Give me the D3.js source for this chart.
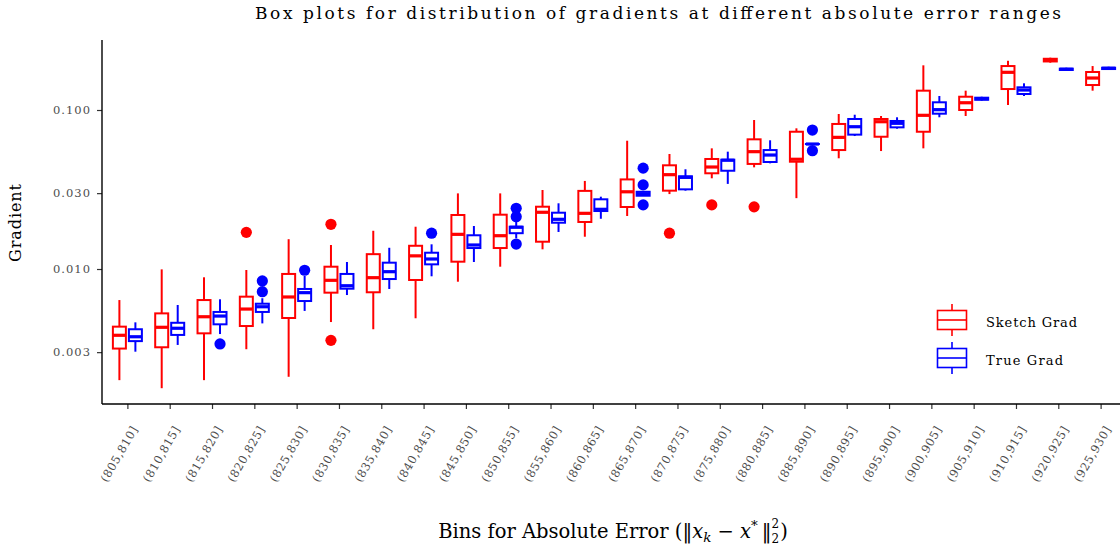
<!DOCTYPE html>
<html>
<head>
<meta charset="utf-8">
<script src="https://cdn.jsdelivr.net/npm/d3@7"></script>
<style>
  html, body { margin: 0; padding: 0; background: #fff; }
  svg { display: block; }
  text { font-family: "DejaVu Serif", "Liberation Serif", serif; }
</style>
</head>
<body>
<svg id="chart" width="1120" height="548"></svg>
<script>
// ---------------- data ----------------
const categories = ["(805,810]","(810,815]","(815,820]","(820,825]","(825,830]","(830,835]",
  "(835,840]","(840,845]","(845,850]","(850,855]","(855,860]","(860,865]","(865,870]",
  "(870,875]","(875,880]","(880,885]","(885,890]","(890,895]","(895,900]","(900,905]",
  "(905,910]","(910,915]","(920,925]","(925,930]"];

const yTickValues = [0.003, 0.01, 0.03, 0.1];
const yTickLabels = ["0.003", "0.010", "0.030", "0.100"];

const seriesNames = ["Sketch Grad", "True Grad"];

// Sketch Grad (red)
const sketchLow  = [0.00200,0.00178,0.00200,0.00313,0.00210,0.00464,0.00418,0.00490,0.00832,0.01034,0.0133,0.01596,0.02155,0.0296,0.0372,0.0436,0.0279,0.0497,0.0552,0.0574,0.0917,0.1075,0.1984,0.1323];
const sketchQ1   = [0.00316,0.00322,0.00394,0.00438,0.00492,0.00710,0.00714,0.00853,0.01112,0.01355,0.01485,0.01976,0.02455,0.0311,0.0400,0.0458,0.0473,0.0560,0.0679,0.0730,0.1000,0.1355,0.2020,0.1436];
const sketchMed  = [0.00383,0.00430,0.00501,0.00560,0.00667,0.00849,0.00882,0.0121,0.01652,0.0162,0.02274,0.0224,0.0306,0.0392,0.0438,0.0547,0.0490,0.0673,0.0844,0.0926,0.1111,0.1726,0.2063,0.1589];
const sketchQ3   = [0.00434,0.00526,0.00638,0.00670,0.00931,0.01034,0.0124,0.0140,0.02186,0.02196,0.02465,0.0310,0.0366,0.0449,0.0492,0.0654,0.0730,0.0817,0.0878,0.1323,0.1212,0.1890,0.2100,0.1734];
const sketchHigh = [0.00638,0.00995,0.00887,0.00986,0.0154,0.01416,0.0174,0.01845,0.0299,0.0299,0.0314,0.0358,0.0641,0.0529,0.0574,0.0865,0.0767,0.0944,0.0917,0.191,0.1323,0.204,0.2133,0.189];
const sketchOutliers = [[],[],[],[0.0170],[],[0.0191,0.00356],[],[],[],[],[],[],[],[0.0168],[0.0253],[0.0246],[],[],[],[],[],[],[],[]];

// True Grad (blue)
const trueLow  = [0.00302,0.00333,0.00390,0.00455,0.00545,0.00686,0.00749,0.00900,0.01107,0.0156,0.0171,0.0207,0.0288,0.0311,0.0343,0.0462,0.0611,0.0686,0.0763,0.0900,0.1144,0.1225,0.1759,0.1785];
const trueQ1   = [0.00352,0.00385,0.00449,0.00537,0.00629,0.00752,0.00865,0.0107,0.01355,0.0168,0.01955,0.02316,0.0289,0.0317,0.0415,0.0471,0.0611,0.0700,0.0778,0.0948,0.1160,0.1261,0.1785,0.1810];
const trueMed  = [0.00375,0.00424,0.00506,0.00579,0.00710,0.00785,0.00962,0.01156,0.01416,0.0183,0.02054,0.02374,0.02975,0.0377,0.0483,0.0521,0.0611,0.0785,0.0825,0.1005,0.1178,0.1336,0.1803,0.1829];
const trueQ3   = [0.00418,0.00459,0.00537,0.00605,0.00749,0.00931,0.01096,0.01266,0.0163,0.01845,0.0226,0.02744,0.0306,0.0383,0.0487,0.0560,0.0611,0.0878,0.0853,0.1118,0.1195,0.1389,0.1820,0.1845];
const trueHigh = [0.00462,0.00594,0.00645,0.00655,0.00904,0.01107,0.0136,0.0143,0.01864,0.01983,0.0259,0.0285,0.0307,0.0424,0.0547,0.0645,0.0611,0.0934,0.0900,0.1225,0.1212,0.1472,0.1845,0.1871];
const trueOutliers = [[],[],[0.00338],[0.00841,0.00720],[0.00982],[],[],[0.0168],[],[0.0241,0.02133,0.01436],[],[],[0.0431,0.0338,0.0253],[],[],[],[0.0748,0.0555],[],[],[],[],[],[],[]];

// ---------------- layout ----------------
const svg = d3.select("#chart");
const plotLeft = 102, plotRight = 1126, plotTop = 40, plotBottom = 404;

const x = d3.scalePoint().domain(categories).range([plotLeft, plotRight]).padding(0.6);
const y = d3.scaleLog().domain([0.001416, 0.2756]).range([plotBottom, plotTop]);

const colors = ["#FF0000", "#0000FF"];
const offsets = [-8, 8];
const boxW = 13;

const series = [
  {low: sketchLow, q1: sketchQ1, med: sketchMed, q3: sketchQ3, high: sketchHigh, out: sketchOutliers},
  {low: trueLow, q1: trueQ1, med: trueMed, q3: trueQ3, high: trueHigh, out: trueOutliers}
];

series.forEach((s, si) => {
  const g = svg.append("g");
  const col = colors[si];
  categories.forEach((c, i) => {
    const cx = x(c) + offsets[si];
    g.append("line").attr("x1", cx).attr("x2", cx).attr("y1", y(s.high[i])).attr("y2", y(s.q3[i]))
      .attr("stroke", col).attr("stroke-width", 2);
    g.append("line").attr("x1", cx).attr("x2", cx).attr("y1", y(s.q1[i])).attr("y2", y(s.low[i]))
      .attr("stroke", col).attr("stroke-width", 2);
    const yt = y(s.q3[i]), yb = y(s.q1[i]);
    g.append("rect").attr("x", cx - boxW / 2).attr("y", yt).attr("width", boxW).attr("height", Math.max(0.01, yb - yt))
      .attr("fill", "#fff").attr("stroke", col).attr("stroke-width", 2);
    g.append("line").attr("x1", cx - boxW / 2).attr("x2", cx + boxW / 2).attr("y1", y(s.med[i])).attr("y2", y(s.med[i]))
      .attr("stroke", col).attr("stroke-width", 3.2);
    s.out[i].forEach(v => {
      g.append("circle").attr("cx", cx).attr("cy", y(v)).attr("r", 5.6).attr("fill", col);
    });
  });
});

// ---------------- axes ----------------
const yAxis = d3.axisLeft(y).tickValues(yTickValues)
  .tickFormat((d, i) => yTickLabels[i]).tickSize(5).tickSizeOuter(0).tickPadding(7);
const gy = svg.append("g").attr("transform", `translate(${plotLeft},0)`).call(yAxis);
gy.select(".domain").remove();
gy.selectAll(".tick line").attr("stroke", "#333").attr("stroke-width", 1.2);
gy.selectAll(".tick text").attr("fill", "#4d4d4d").attr("font-size", 11.5)
  .attr("font-family", "DejaVu Serif").attr("textLength", 37).attr("lengthAdjust", "spacing");
svg.append("line").attr("x1", plotLeft).attr("x2", plotLeft).attr("y1", plotTop).attr("y2", plotBottom)
  .attr("stroke", "#000").attr("stroke-width", 1.4);

const xAxis = d3.axisBottom(x).tickSize(5).tickSizeOuter(0);
const gx = svg.append("g").attr("transform", `translate(0,${plotBottom})`).call(xAxis);
gx.select(".domain").remove();
gx.selectAll(".tick line").attr("stroke", "#333").attr("stroke-width", 1.2);
gx.selectAll(".tick text").remove();
svg.append("line").attr("x1", plotLeft).attr("x2", plotRight).attr("y1", plotBottom).attr("y2", plotBottom)
  .attr("stroke", "#000").attr("stroke-width", 1.4);

svg.append("g").selectAll("text").data(categories).join("text")
  .attr("transform", d => `translate(${x(d) + 3},${plotBottom + 21}) rotate(-60)`)
  .attr("text-anchor", "end").attr("dominant-baseline", "hanging")
  .attr("fill", "#4d4d4d").attr("font-size", 11.5)
  .attr("textLength", 62).attr("lengthAdjust", "spacing")
  .text(d => d);

// ---------------- titles ----------------
svg.append("text").attr("x", 658).attr("y", 19).attr("text-anchor", "middle")
  .attr("font-size", 17).attr("fill", "#000")
  .attr("textLength", 806).attr("lengthAdjust", "spacing")
  .text("Box plots for distribution of gradients at different absolute error ranges");

svg.append("text").attr("transform", "translate(21,223) rotate(-90)").attr("text-anchor", "middle")
  .attr("font-size", 16).attr("fill", "#000")
  .attr("textLength", 78).attr("lengthAdjust", "spacing")
  .text("Gradient");

const xt = svg.append("text").attr("x", 613).attr("y", 538).attr("text-anchor", "middle")
  .attr("font-size", 19.5).attr("fill", "#000");
xt.append("tspan").text("Bins for Absolute Error (\u2016");
xt.append("tspan").attr("font-style", "italic").text("x");
xt.append("tspan").attr("dy", 4).attr("font-size", 13.5).attr("font-style", "italic").text("k");
xt.append("tspan").attr("dy", -4).text(" \u2212 ");
xt.append("tspan").attr("font-style", "italic").text("x");
xt.append("tspan").attr("dy", -8).attr("font-size", 13.5).text("*");
xt.append("tspan").attr("dy", 8).text("\u2009\u2016");
xt.append("tspan").attr("dy", -10).attr("font-size", 12).text("2");
xt.append("tspan").attr("dy", 14.5).attr("dx", -7.6).attr("font-size", 12).text("2");
xt.append("tspan").attr("dy", -4.5).attr("dx", 1).text(")");

// ---------------- legend ----------------
const legY = [320, 358];
seriesNames.forEach((name, i) => {
  const g = svg.append("g");
  const cy = legY[i], cx = 952, col = colors[i];
  g.append("line").attr("x1", cx).attr("x2", cx).attr("y1", cy - 16).attr("y2", cy + 16)
    .attr("stroke", col).attr("stroke-width", 1.6);
  g.append("rect").attr("x", cx - 14.5).attr("y", cy - 9.5).attr("width", 29).attr("height", 19)
    .attr("fill", "#fff").attr("stroke", col).attr("stroke-width", 1.6);
  g.append("line").attr("x1", cx - 14.5).attr("x2", cx + 14.5).attr("y1", cy).attr("y2", cy)
    .attr("stroke", col).attr("stroke-width", 1.6);
  g.append("text").attr("x", 986).attr("y", cy + 7).attr("font-size", 13).attr("fill", "#000")
    .attr("textLength", i === 0 ? 91 : 77).attr("lengthAdjust", "spacing")
    .text(name);
});
</script>
</body>
</html>
